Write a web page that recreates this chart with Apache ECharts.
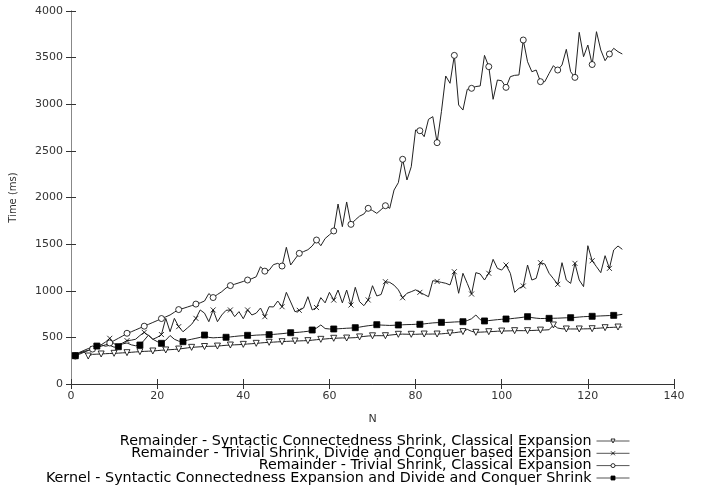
<!DOCTYPE html>
<html>
<head>
<meta charset="utf-8">
<script src="https://cdn.jsdelivr.net/npm/echarts@6/dist/echarts.min.js"></script>
<style>
  html, body { margin: 0; padding: 0; background: #fff; }
  #chart { width: 705px; height: 487px; }
</style>
</head>
<body>
<div id="chart"></div>
<script>
// x ticks / y ticks
var xTicks = [0, 20, 40, 60, 80, 100, 120, 140];
var yTicks = [0, 500, 1000, 1500, 2000, 2500, 3000, 3500, 4000];

var seriesNames = [
  'Remainder - Syntactic Connectedness Shrink, Classical Expansion',
  'Remainder - Trivial Shrink, Divide and Conquer based Expansion',
  'Remainder - Trivial Shrink, Classical Expansion',
  'Kernel - Syntactic Connectedness Expansion and Divide and Conquer Shrink'
];

// time in ms for N = 1..128
var syntacticClassical = [
  303,335,345,300,318,320,322,325,327,329,
  331,334,336,340,344,347,350,352,354,358,
  362,365,368,371,375,381,387,393,396,399,
  402,404,405,407,411,415,418,420,422,425,
  429,432,436,440,444,447,449,452,454,457,
  459,461,462,464,465,470,475,479,483,487,
  490,492,494,493,495,497,505,510,515,517,
  518,518,518,524,529,533,535,534,533,533,
  535,536,535,536,536,538,542,547,550,556,
  562,586,565,554,556,558,561,563,566,568,
  569,570,572,572,572,572,574,576,578,579,
  582,633,600,592,590,590,590,590,591,592,
  593,597,600,604,606,608,611,611
];
var trivialDivide = [
  300,320,340,360,380,400,420,450,490,430,
  420,440,465,470,480,520,554,520,480,500,
  530,704,561,704,615,560,600,640,704,794,
  760,668,794,668,740,790,794,722,776,700,
  794,740,760,815,722,829,826,890,829,983,
  880,775,790,815,936,794,820,926,870,983,
  900,1008,870,1008,847,1037,883,840,901,1054,
  944,960,1097,1090,1060,1010,925,973,990,1010,
  983,960,936,1108,1100,1090,1080,1062,1204,973,
  1187,1079,965,1194,1180,1115,1187,1337,1240,1222,
  1276,1187,983,1026,1051,1276,1115,1133,1301,1287,
  1187,1130,1069,1301,1115,1079,1294,1115,1044,1483,
  1322,1258,1194,1376,1240,1437,1480,1444
];
var trivialClassical = [
  300,330,350,360,375,390,405,420,440,465,
  490,515,544,560,580,600,620,640,660,680,
  702,720,740,770,798,810,825,840,857,870,
  890,970,927,960,990,1030,1055,1070,1085,1100,
  1115,1130,1150,1258,1210,1220,1280,1294,1265,1466,
  1276,1340,1401,1420,1440,1480,1544,1483,1560,1600,
  1641,1930,1687,1952,1712,1760,1800,1823,1884,1860,
  1830,1870,1912,1884,2080,2159,2410,2188,2330,2724,
  2716,2652,2838,2867,2588,2920,3303,3225,3524,2992,
  2938,3160,3171,3190,3196,3524,3403,3053,3260,3252,
  3181,3296,3310,3314,3689,3456,3349,3367,3242,3242,
  3330,3414,3367,3421,3589,3349,3288,3771,3510,3635,
  3426,3778,3582,3467,3539,3600,3564,3539
];
var kernel = [
  303,340,360,380,395,407,420,405,415,395,
  400,430,440,420,410,418,470,525,480,455,
  436,470,520,480,460,454,470,480,490,500,
  525,500,495,498,500,501,505,510,515,518,
  522,520,524,526,528,529,532,536,540,545,
  550,552,555,560,565,579,600,633,595,590,
  590,592,595,598,600,604,610,618,625,630,
  636,632,630,628,630,633,635,637,638,640,
  640,645,650,655,658,661,660,662,665,667,
  668,680,700,740,690,676,680,685,690,694,
  697,700,705,710,716,722,712,706,702,703,
  704,705,706,708,710,711,714,718,722,724,
  726,728,730,732,734,736,740,747
];

var lineColor = '#222';
var crossPath = 'path://M0,0L10,10M10,0L0,10';

function buildData(values, every) {
  var out = [];
  for (var i = 0; i < values.length; i++) {
    var item = { value: [i + 1, values[i]] };
    if (i % every !== 0) item.symbol = 'none';
    out.push(item);
  }
  return out;
}

function makeSeries(name, values, every, symbol, size, filled, rotate) {
  return {
    name: name,
    type: 'line',
    data: buildData(values, every),
    symbol: symbol,
    symbolSize: size,
    symbolRotate: rotate || 0,
    showAllSymbol: true,
    animation: false,
    lineStyle: { color: lineColor, width: 1 },
    itemStyle: {
      color: filled ? '#000' : '#fff',
      borderColor: '#000',
      borderWidth: 0.8
    },
    emphasis: { disabled: true }
  };
}

var series = [
  makeSeries(seriesNames[0], syntacticClassical, 3, 'triangle', 6, false, 180),
  makeSeries(seriesNames[1], trivialDivide, 4, crossPath, 5, false),
  makeSeries(seriesNames[2], trivialClassical, 4, 'circle', 6, false),
  makeSeries(seriesNames[3], kernel, 5, 'rect', 6, true)
];

var legendTops = [434, 446.3, 458.6, 471];
var legendFilled = [false, false, false, true];
var legends = seriesNames.map(function (n, i) {
  return {
    data: [n],
    right: 75,
    top: legendTops[i],
    align: 'right',
    itemWidth: 33,
    itemHeight: 5,
    itemGap: 0,
    selectedMode: false,
    padding: 0,
    itemStyle: {
      color: legendFilled[i] ? '#000' : '#fff',
      borderColor: '#000',
      borderWidth: 0.8
    },
    lineStyle: { color: '#555', width: 1 },
    textStyle: { fontFamily: 'DejaVu Sans', fontSize: 14.3, color: '#000', padding: [0, 0, 0, 0] }
  };
});

var axisLabelStyle = { fontFamily: 'DejaVu Sans', fontSize: 11, color: '#333' };
var borderStyle = { color: '#333', width: 1 };

var chart = echarts.init(document.getElementById('chart'), null, { renderer: 'canvas' });
chart.setOption({
  backgroundColor: '#fff',
  animation: false,
  legend: legends,
  grid: { left: 71, right: 31, top: 11, bottom: 103, containLabel: false },
  xAxis: [
    {
      type: 'value', min: xTicks[0], max: xTicks[xTicks.length - 1], interval: 20,
      name: 'N', nameLocation: 'middle', nameGap: 30,
      nameTextStyle: { fontFamily: 'DejaVu Sans', fontSize: 11, color: '#333' },
      axisLine: { show: true, lineStyle: borderStyle },
      axisTick: { inside: true, length: 5, lineStyle: borderStyle },
      axisLabel: Object.assign({ margin: 7, formatter: function (v) { return String(v); } }, axisLabelStyle),
      splitLine: { show: false }
    },
    {
      type: 'value', position: 'top', min: xTicks[0], max: xTicks[xTicks.length - 1], interval: 20,
      axisLine: { show: true, lineStyle: borderStyle },
      axisTick: { inside: true, length: 5, lineStyle: borderStyle },
      axisLabel: { show: false },
      splitLine: { show: false }
    }
  ],
  yAxis: [
    {
      type: 'value', min: yTicks[0], max: yTicks[yTicks.length - 1], interval: 500,
      name: 'Time (ms)', nameLocation: 'middle', nameGap: 53, nameRotate: 90,
      nameTextStyle: { fontFamily: 'DejaVu Sans', fontSize: 10, color: '#333' },
      axisLine: { show: true, lineStyle: { color: '#888', width: 1 } },
      axisTick: { inside: true, length: 5, lineStyle: borderStyle },
      axisLabel: Object.assign({ margin: 8, formatter: function (v) { return String(v); } }, axisLabelStyle),
      splitLine: { show: false }
    },
    {
      type: 'value', position: 'right', min: yTicks[0], max: yTicks[yTicks.length - 1], interval: 500,
      axisLine: { show: true, lineStyle: { color: '#888', width: 1 } },
      axisTick: { inside: true, length: 5, lineStyle: borderStyle },
      axisLabel: { show: false },
      splitLine: { show: false }
    }
  ],
  series: series
});
</script>
</body>
</html>
